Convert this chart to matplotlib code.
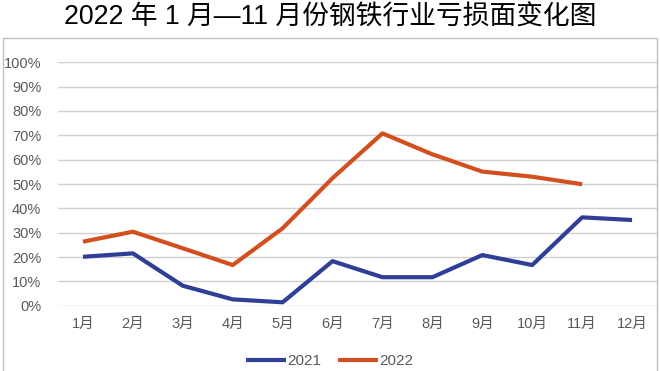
import matplotlib.pyplot as plt
from matplotlib.patches import Rectangle
from matplotlib.ticker import PercentFormatter

plt.rcParams['font.family'] = ['Liberation Sans', 'Noto Sans CJK SC', 'DejaVu Sans']

# data
months = ['1月', '2月', '3月', '4月', '5月', '6月', '7月', '8月', '9月', '10月', '11月', '12月']
loss_2021 = [20.1, 21.5, 8.2, 2.6, 1.4, 18.3, 11.7, 11.7, 20.8, 16.7, 36.3, 35.2]
loss_2022 = [26.3, 30.4, 23.6, 16.7, 31.8, 52.4, 70.8, 62.2, 55.1, 53.0, 49.9]

BLUE = '#2f3f97'
ORANGE = '#d2501f'
GREY = '#595959'

fig = plt.figure(figsize=(6.6, 3.71), dpi=100)
W, H = 660, 371

# outer frame of the chart
fig.patches.append(Rectangle((3 / W, -0.05), 654 / W, 1 - 38 / H + 0.05,
                             transform=fig.transFigure, fill=False,
                             edgecolor='#bfbfbf', linewidth=1))

fig.text(0.5, 1 - 18 / H, '2022 年 1 月—11 月份钢铁行业亏损面变化图',
         ha='center', va='center', fontsize=19.3, color='black', fontweight='medium')

ax = fig.add_axes([58 / W, 1 - 305.7 / H, 599 / W, (305.7 - 62.3) / H])

x = list(range(len(months)))
ax.plot(x, loss_2021, color=BLUE, linewidth=3, label='2021', solid_capstyle='butt')
ax.plot(x[:len(loss_2022)], loss_2022, color=ORANGE, linewidth=3, label='2022',
        solid_capstyle='butt')

ax.set_xlim(-0.5, len(months) - 0.5)
ax.set_ylim(0, 100)
ax.set_yticks(range(0, 101, 10))
ax.yaxis.set_major_formatter(PercentFormatter(decimals=0))
ax.set_xticks(x)
ax.set_xticklabels(months)
ax.grid(axis='y', color='#d0d0d0', linewidth=1)
ax.set_axisbelow(True)
for s in ax.spines.values():
    s.set_visible(False)
ax.tick_params(length=0, colors=GREY, labelsize=10.5)
ax.tick_params(axis='y', pad=12)
ax.tick_params(axis='x', pad=8)

fig.legend(loc='center', bbox_to_anchor=(0.5, 1 - 361 / H), ncol=2, frameon=False,
           fontsize=11, handlelength=2.6, handletextpad=0.1, columnspacing=1.1,
           labelcolor=GREY)

fig.savefig('out.png', dpi=100)
